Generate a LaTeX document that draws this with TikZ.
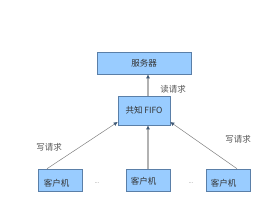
\documentclass[tikz,border=0pt]{standalone}
\usepackage{fontspec}
\setmainfont{Liberation Sans}
\newfontfamily\cjk{Noto Sans CJK SC}
\usetikzlibrary{arrows.meta}
\definecolor{boxfill}{HTML}{99CCFF}
\definecolor{boxline}{HTML}{5A7FA8}
\definecolor{txt}{HTML}{333333}
\definecolor{lbl}{HTML}{555555}
\tikzset{
  box/.style={draw=boxline, fill=boxfill, line width=0.6pt, inner sep=0pt, font=\cjk\fontsize{8.5}{9}\selectfont, text=txt},
  cbox/.style={box, minimum width=44pt, minimum height=22pt},
  thickarr/.style={draw=black!30, line width=1.4pt, -{Latex[length=4pt,width=4pt,color=boxline!70!black]}},
  thinarr/.style={draw=black!50, line width=0.5pt, -{Latex[length=4pt,width=4pt,color=boxline!70!black]}},
  lab/.style={font=\cjk\fontsize{8.5}{9}\selectfont, text=lbl},
  ctext/.style={font=\cjk\fontsize{8.5}{9}\selectfont, text=txt, inner sep=0pt},
  dots/.style={font=\fontsize{6}{7}\selectfont, text=black!45}
}
\begin{document}
\begin{tikzpicture}[x=1pt,y=-1pt]
\useasboundingbox (0,0) rectangle (280,220);
\node[box, minimum width=94pt, minimum height=22pt] (srv) at (144,63) {服务器};
\node[box, minimum width=52pt, minimum height=29pt] (fifo) at (144,110.5) {共知 FIFO};
\node[cbox] (c1) at (60,180) {};
\node[cbox] (c2) at (148,180) {};
\node[cbox] (c3) at (228,180) {};
\node[ctext] (t1) at (56.5,183.5) {客户机};
\node[ctext] (t2) at (143.5,181) {客户机};
\node[ctext] (t3) at (223.5,183.5) {客户机};
\node[dots] (d1) at (97,183) {...};
\node[dots] (d2) at (191,183) {...};
\draw[thickarr] (fifo.north -| 148,0) -- (srv.south -| 148,0);
\draw[thickarr] (c2.north) -- (c2.north |- fifo.south);
\coordinate (c1t) at (47,169);
\coordinate (c3t) at (237,169);
\draw[thinarr] (c1.north -| c1t) -- (fifo.south west |- 0,122);
\draw[thinarr] (c3.north -| c3t) -- (fifo.south east |- 0,122);
\node[lab] (l1) at (173,89) {读请求};
\node[lab] (l2) at (49,147) {写请求};
\node[lab] (l3) at (238,139) {写请求};
\end{tikzpicture}
\end{document}
